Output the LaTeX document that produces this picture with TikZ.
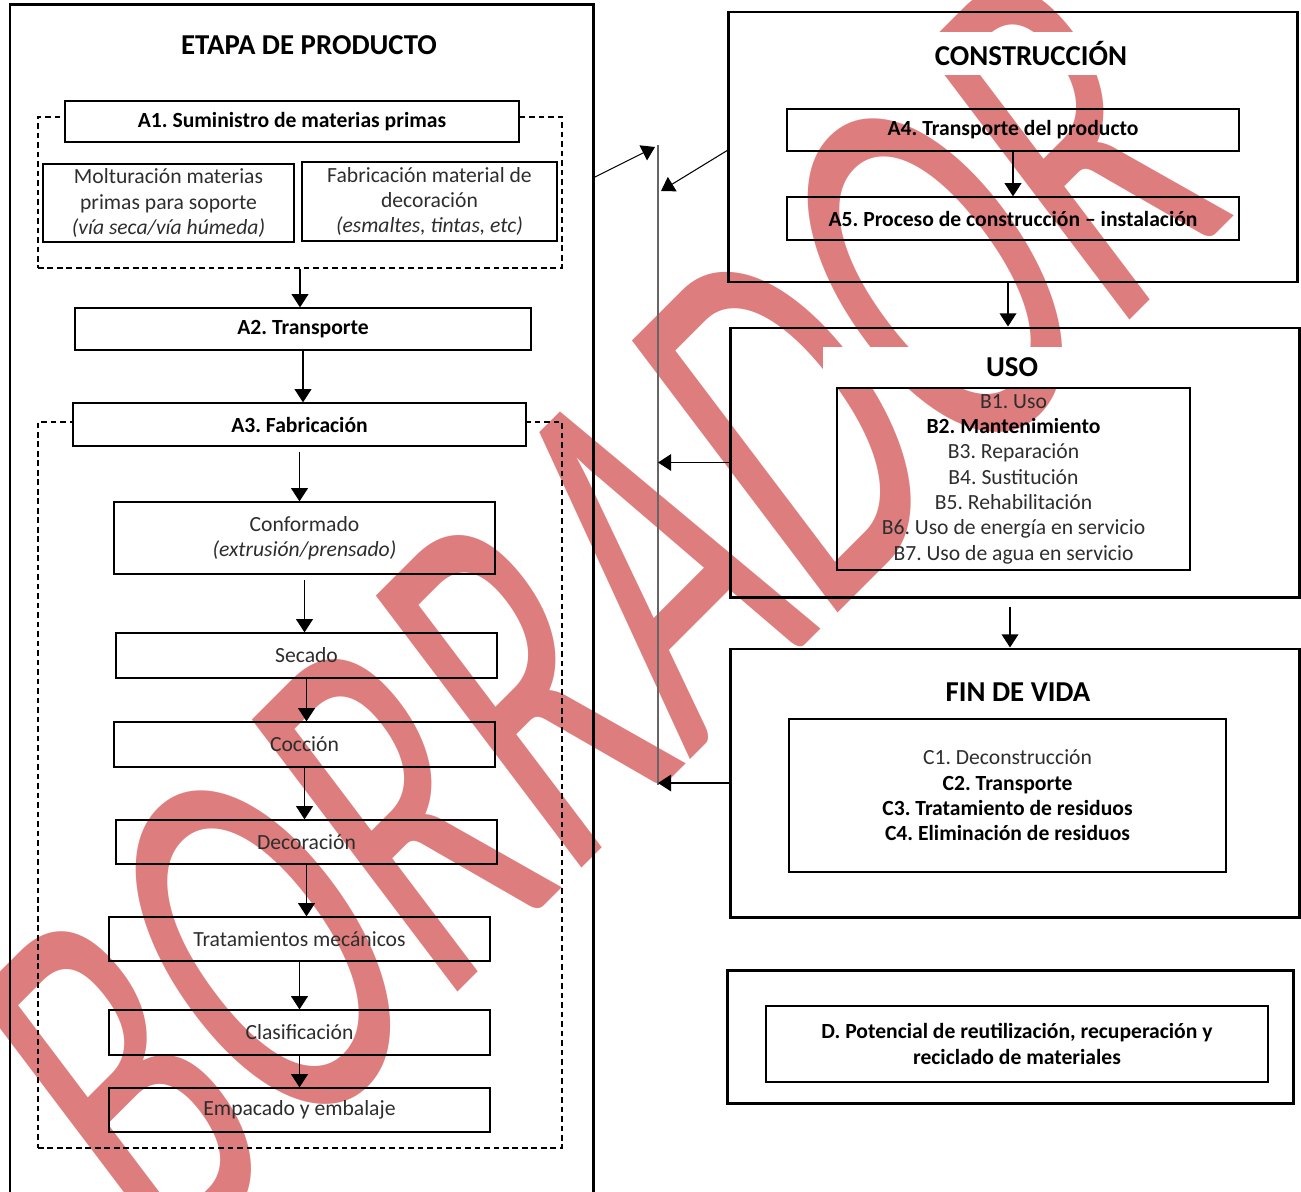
\documentclass[tikz,border=0pt]{standalone}
\usepackage{fontspec}
\setmainfont{Carlito}
\newfontfamily\wmfont[FakeStretch=0.62]{Carlito}
\usetikzlibrary{arrows.meta}
\definecolor{borrador}{RGB}{222,125,125}
\definecolor{txtgray}{RGB}{45,45,45}
\tikzset{>={Triangle[width=9.5pt,length=7.5pt]}}
\tikzset{
  stage/.style={draw,line width=1.7pt,inner sep=0pt},
  stagetitle/.style={fill=white,inner sep=0pt,font=\fontsize{16.4}{18}\selectfont\bfseries},
  dashgroup/.style={draw,line width=0.6pt,dash pattern=on 3.2pt off 2.2pt,inner sep=0pt},
  procbox/.style={draw,line width=0.7pt,inner sep=0pt,align=center,text=txtgray,font=\fontsize{12.3}{14.4}\selectfont},
  headbox/.style={procbox,text=black,font=\fontsize{12.3}{14.4}\selectfont\bfseries},
  flow/.style={->,line width=0.8pt}
}

\begin{document}
\frenchspacing
\begin{tikzpicture}[x=0.2mm,y=-0.2mm]
\useasboundingbox (0,0) rectangle (1301,1191);

\node[yscale=1.15,rotate=41,text=borrador,inner sep=0pt,font=\wmfont\fontsize{278}{278}\selectfont] (wm) at (599,612) {BORRADOR};

\node[stage,minimum width=116.6mm,minimum height=239mm] (prod) at (301.5,602.5) {};
\node[stagetitle] (prodtitle) at (309,45) {ETAPA DE PRODUCTO};

\node[dashgroup,minimum width=104.8mm,minimum height=30.2mm] (grpa1) at (300,192.5) {};
\node[headbox,fill=white,minimum width=90.8mm,minimum height=8.2mm] (a1) at (292,121.5) {A1. Suministro de materias primas};
\node[procbox,minimum width=50.2mm,minimum height=15.6mm] (molt) at (168.5,203) {Molturación materias\\primas para soporte\\\textit{(vía seca/vía húmeda)}};
\node[procbox,minimum width=51mm,minimum height=15.8mm] (fabr) at (429.5,201.5) {Fabricación material de\\decoración\\\textit{(esmaltes, tintas, etc)}};

\node[headbox,minimum width=91.2mm,minimum height=8.4mm] (a2) at (303,329) {A2. Transporte};

\node[dashgroup,minimum width=104.8mm,minimum height=145.2mm] (grpa3) at (300,785) {};
\node[headbox,fill=white,minimum width=90.6mm,minimum height=8.6mm] (a3) at (299.5,424.5) {A3. Fabricación};
\node[procbox,minimum width=76.2mm,minimum height=14.4mm] (conf) at (304.5,538) {Conformado\\\textit{(extrusión/prensado)}};
\node[procbox,minimum width=76.2mm,minimum height=9mm] (sec) at (306.5,655.5) {Secado};
\node[procbox,minimum width=76.2mm,minimum height=9mm] (coc) at (304.5,744.5) {Cocción};
\node[procbox,minimum width=76.2mm,minimum height=8.8mm] (deco) at (306.5,842) {Decoración};
\node[procbox,minimum width=76.2mm,minimum height=8.8mm] (trat) at (299.5,939) {Tratamientos mecánicos};
\node[procbox,minimum width=76.2mm,minimum height=9mm] (clas) at (299.5,1032.5) {Clasificación};
\node[procbox,minimum width=76.2mm,minimum height=8.8mm] (emp) at (299.5,1110) {Empacado y embalaje};

\draw[flow] (grpa1.south) -- (grpa1.south |- a2.north);
\draw[flow] (a2.south) -- (a2.south |- a3.north);
\draw[flow,shorten <=1mm] (a3.south) -- (a3.south |- conf.north);
\draw[flow,shorten <=1mm] (conf.south) -- (conf.south |- sec.north);
\draw[flow] (sec.south) -- (sec.south |- coc.north);
\draw[flow] (coc.south) -- (coc.south |- deco.north);
\draw[flow] (deco.south) -- (deco.south |- trat.north);
\draw[flow] (trat.south) -- (trat.south |- clas.north);
\draw[flow] (clas.south) -- (clas.south |- emp.north);

\node[stage,minimum width=113.8mm,minimum height=54mm] (cons) at (1012.5,147) {};
\node[stagetitle,minimum width=60mm,minimum height=8.6mm] (constitle) at (1031,53.5) {CONSTRUCCIÓN};
\node[headbox,minimum width=90.4mm,minimum height=8.4mm] (a4) at (1013,130) {A4. Transporte del producto};
\node[headbox,minimum width=90.4mm,minimum height=8.6mm] (a5) at (1013,218.5) {A5. Proceso de construcción -- instalación};
\draw[flow] (a4.south) -- (a5.north);

\node[stage,minimum width=113.8mm,minimum height=53.8mm] (uso) at (1014.5,462.5) {};
\node[stagetitle,minimum width=75.6mm,minimum height=8.2mm] (usotitle) at (1012,367.5) {USO};
\node[procbox,minimum width=70.6mm,minimum height=36.4mm] (binner) at (1013.5,479) {B1. Uso\\{\color{black}\bfseries B2. Mantenimiento}\\B3. Reparación\\B4. Sustitución\\B5. Rehabilitación\\B6. Uso de energía en servicio\\B7. Uso de agua en servicio};
\draw[flow] ([xshift=-0.9mm]cons.south) -- ([xshift=-0.9mm]cons.south |- uso.north);

\node[stage,minimum width=113.8mm,minimum height=53.6mm] (fin) at (1014.5,783) {};
\node[stagetitle] (fintitle) at (1018,692) {FIN DE VIDA};
\node[procbox,minimum width=87.4mm,minimum height=30.6mm] (cinner) at (1007.5,795.5) {C1. Deconstrucción\\{\color{black}\bfseries C2. Transporte}\\{\color{black}\bfseries C3. Tratamiento de residuos}\\{\color{black}\bfseries C4. Eliminación de residuos}};
\draw[flow,shorten <=1.6mm] ([xshift=-0.9mm]uso.south) -- ([xshift=-0.9mm]uso.south |- fin.north);

\node[stage,minimum width=113.2mm,minimum height=26.6mm] (dframe) at (1010,1036.5) {};
\node[headbox,minimum width=100.4mm,minimum height=15.2mm] (dinner) at (1017,1044) {D. Potencial de reutilización, recuperación y\\reciclado de materiales};

\coordinate (lntop) at (658,145);
\coordinate (lnbot) at (658,785);
\coordinate (uptip) at (655,147);
\coordinate (dntip) at (661,191);
\coordinate (prodout) at (593,178);
\coordinate (consout) at (728,150);
\draw[black!60,line width=0.7pt] (lntop) -- (lnbot);
\draw[flow,line width=0.6pt] (prodout) -- (uptip);
\draw[flow,line width=0.6pt] (consout) -- (dntip);
\draw[flow] (uso.west) -- (uso.west -| lntop);
\draw[flow] (fin.west) -- (fin.west -| lntop);
\end{tikzpicture}
\end{document}
